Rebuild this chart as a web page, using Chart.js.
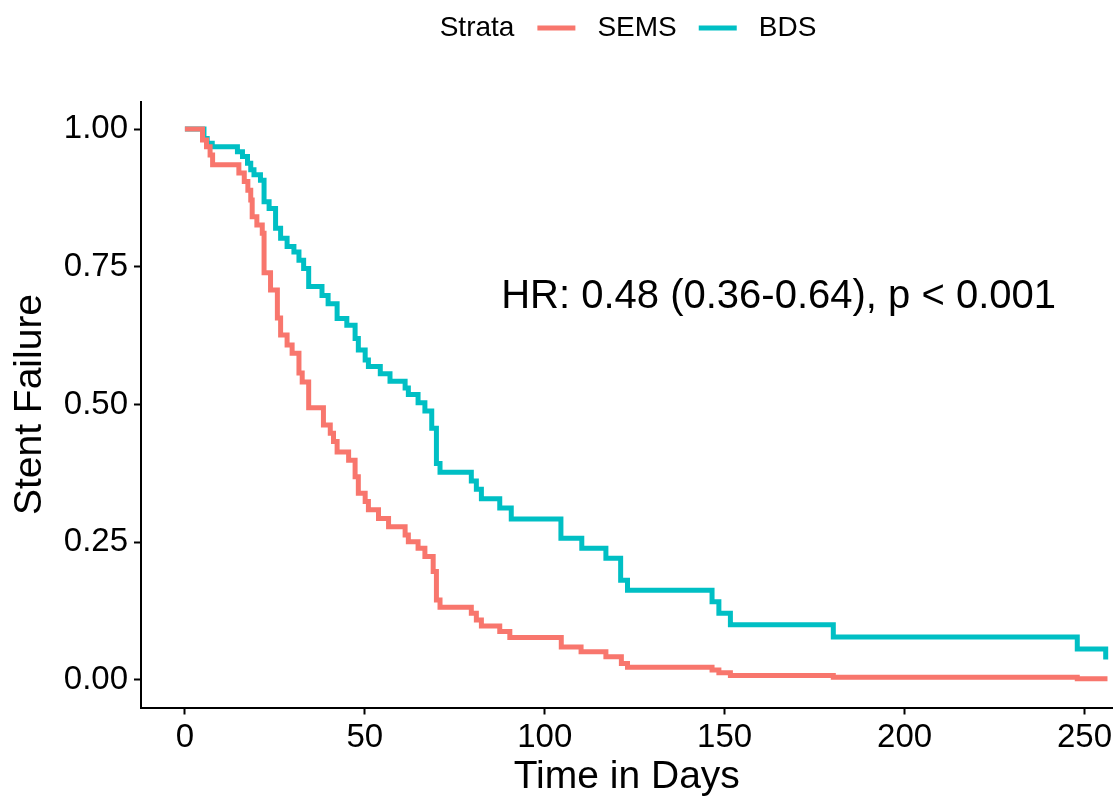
<!DOCTYPE html>
<html>
<head>
<meta charset="utf-8">
<script src="https://cdn.jsdelivr.net/npm/chart.js@4.4.1/dist/chart.umd.min.js"></script>
<style>
  html, body { margin: 0; padding: 0; background: #fff; }
  #wrap { width: 1116px; height: 798px; }
</style>
</head>
<body>
<div id="wrap"><canvas id="km"></canvas></div>
<script>
// Kaplan-Meier steps (days, proportion)
const semsTime = [0, 4.9, 6.0, 7.0, 7.7, 15, 16.5, 17.5, 18.3, 18.7, 20, 21.5, 22, 23.8, 25.7, 26.6, 28.4, 29.8, 31.7, 32.6, 34.4, 38.5, 40.4, 41.3, 42.3, 45.5, 47.3, 48.2, 50.1, 51, 53.8, 56.6, 61.2, 62.1, 64.8, 66.7, 69, 69.9, 70.9, 79.6, 81, 82.4, 87.5, 90.3, 104.6, 110.1, 117, 121.3, 123, 146.5, 148.4, 151.6, 180.2, 248, 256.4];
const semsSurv = [1.0, 0.98, 0.968, 0.953, 0.935, 0.92, 0.905, 0.889, 0.871, 0.841, 0.826, 0.811, 0.739, 0.708, 0.657, 0.626, 0.608, 0.593, 0.557, 0.541, 0.494, 0.463, 0.448, 0.433, 0.414, 0.399, 0.369, 0.339, 0.324, 0.309, 0.293, 0.278, 0.263, 0.251, 0.239, 0.224, 0.197, 0.145, 0.132, 0.121, 0.109, 0.098, 0.088, 0.077, 0.060, 0.051, 0.042, 0.030, 0.023, 0.018, 0.013, 0.008, 0.005, 0.002, 0.002];

const bdsTime = [0, 5.3, 6.2, 7.6, 14.6, 16, 17.4, 18.3, 19.2, 21, 22, 23.4, 25.2, 26.6, 28.4, 30.3, 31.7, 33, 34.4, 38.1, 39.8, 42.3, 45, 47.3, 48.2, 50.1, 51, 54.3, 57, 61.2, 62.1, 64.8, 66.7, 68.6, 69.9, 70.9, 79.6, 81, 82.4, 87.5, 90.7, 104.5, 110.3, 117, 121.1, 123, 146.5, 148.4, 151.6, 180.2, 248, 255.9];
const bdsSurv = [1.0, 0.983, 0.974, 0.968, 0.959, 0.950, 0.938, 0.926, 0.917, 0.907, 0.868, 0.856, 0.820, 0.802, 0.787, 0.777, 0.762, 0.747, 0.714, 0.698, 0.683, 0.656, 0.644, 0.620, 0.599, 0.581, 0.569, 0.556, 0.542, 0.530, 0.518, 0.503, 0.488, 0.457, 0.393, 0.377, 0.361, 0.346, 0.329, 0.312, 0.292, 0.257, 0.239, 0.221, 0.181, 0.163, 0.142, 0.121, 0.100, 0.078, 0.056, 0.037];

const xTicks = [0, 50, 100, 150, 200, 250];
const yTicks = [0, 0.25, 0.5, 0.75, 1];
const strata = ["SEMS", "BDS"];
const strataColors = ["#F8766D", "#00BFC4"];
const hrText = "HR: 0.48 (0.36-0.64), p < 0.001";

const FONT = "'Liberation Sans', Arial, sans-serif";

const toPoints = (times, surv) => times.map((t, i) => ({ x: t, y: surv[i] }));

// legend drawn inline like ggplot: "Strata  — SEMS  — BDS"
const stripLegend = {
  id: "stripLegend",
  afterDraw(chart) {
    const ctx = chart.ctx;
    ctx.save();
    ctx.font = "28px " + FONT;
    ctx.textBaseline = "middle";
    ctx.fillStyle = "#000";
    const y = 28;
    const parts = ["Strata", ...strata];
    const widths = parts.map((p) => ctx.measureText(p).width);
    const swatch = 38, gapBefore = 23, gapAfter = 22, gapItem = 22;
    let total = widths[0];
    strata.forEach((s, i) => {
      total += gapBefore + swatch + gapAfter + widths[i + 1];
    });
    let x = 628.5 - total / 2;
    ctx.fillText(parts[0], x, y);
    x += widths[0];
    strata.forEach((s, i) => {
      x += i === 0 ? gapBefore : gapItem;
      ctx.strokeStyle = strataColors[i];
      ctx.lineWidth = 5;
      ctx.beginPath();
      ctx.moveTo(x, y);
      ctx.lineTo(x + swatch, y);
      ctx.stroke();
      x += swatch + gapAfter;
      ctx.fillText(s, x, y);
      x += widths[i + 1];
    });
    ctx.restore();
  },
};

const hrLabel = {
  id: "hrLabel",
  afterDatasetsDraw(chart) {
    const { ctx, scales } = chart;
    ctx.save();
    ctx.font = "40px " + FONT;
    ctx.fillStyle = "#000";
    ctx.textAlign = "center";
    ctx.textBaseline = "middle";
    ctx.fillText(hrText, scales.x.getPixelForValue(165), scales.y.getPixelForValue(0.695));
    ctx.restore();
  },
};

window.onload = () => {
  new Chart(document.getElementById("km").getContext("2d"), {
    type: "line",
    data: {
      datasets: strata.map((name, i) => ({
        label: name,
        data: i === 0 ? toPoints(semsTime, semsSurv) : toPoints(bdsTime, bdsSurv),
        borderColor: strataColors[i],
        borderWidth: 5,
        stepped: true,
        pointRadius: 0,
        fill: false,
      })),
    },
    options: {
      responsive: true,
      maintainAspectRatio: false,
      animation: false,
      events: [],
      layout: { padding: { top: 101.5, left: 0, right: 0, bottom: 0 } },
      plugins: {
        legend: { display: false },
        tooltip: { enabled: false },
      },
      scales: {
        x: {
          type: "linear",
          min: -12.2,
          max: 257.8,
          afterBuildTicks: (scale) => {
            scale.ticks = xTicks.map((v) => ({ value: v }));
          },
          afterFit: (scale) => {
            scale.height = 90.5;
          },
          ticks: {
            color: "#000",
            font: { family: FONT, size: 33 },
            padding: 4,
            maxRotation: 0,
            autoSkip: false,
          },
          grid: {
            drawOnChartArea: false,
            drawTicks: true,
            tickLength: 7,
            tickWidth: 2,
            tickColor: "#000",
          },
          border: { display: true, color: "#000", width: 2 },
          title: {
            display: true,
            text: "Time in Days",
            color: "#000",
            font: { family: FONT, size: 39, lineHeight: 1 },
            padding: { top: 0, bottom: 1 },
          },
        },
        y: {
          type: "linear",
          min: -0.05,
          max: 1.05,
          afterBuildTicks: (scale) => {
            scale.ticks = yTicks.map((v) => ({ value: v }));
          },
          afterFit: (scale) => {
            scale.width = 141;
          },
          ticks: {
            color: "#000",
            font: { family: FONT, size: 33 },
            padding: 6,
            callback: (v) => Number(v).toFixed(2),
          },
          grid: {
            drawOnChartArea: false,
            drawTicks: true,
            tickLength: 7,
            tickWidth: 2,
            tickColor: "#000",
          },
          border: { display: true, color: "#000", width: 2 },
          title: {
            display: true,
            text: "Stent Failure",
            color: "#000",
            font: { family: FONT, size: 39, lineHeight: 1 },
            padding: { top: 10.5, bottom: 0 },
          },
        },
      },
    },
    plugins: [stripLegend, hrLabel],
  });
};
</script>
</body>
</html>
